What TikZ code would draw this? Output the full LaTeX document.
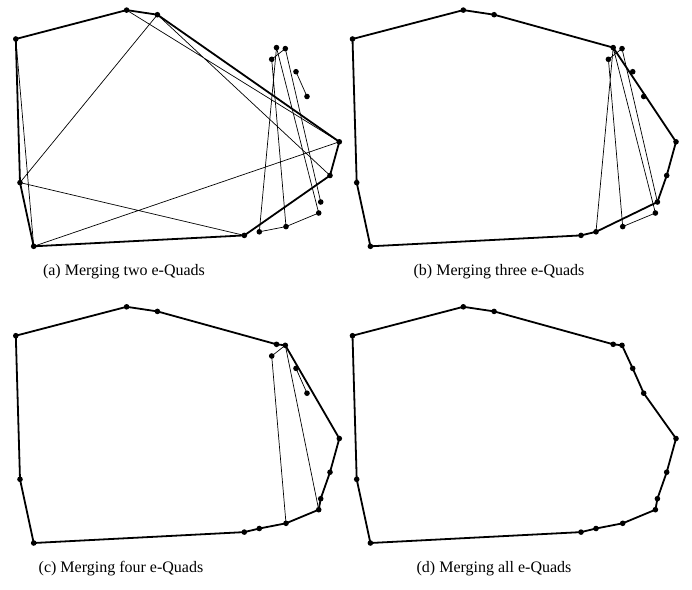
\documentclass[tikz,border=0pt]{standalone}
\usepackage{fontspec}
\setmainfont{Liberation Serif}
\usepackage{tikz}

% stili
\tikzset{
  hull/.style={line width=1.8pt, line join=round},
  quad/.style={line width=0.7pt},
  pt/.style={fill=black},
  caption/.style={font=\fontsize{16}{19}\selectfont, inner sep=0pt}
}

% punti (coordinate locali del pannello)
\newcommand{\puntiset}{%
  \coordinate (A) at (15.8,39);
  \coordinate (B) at (126.6,10.1);
  \coordinate (C) at (157.4,14.7);
  \coordinate (D) at (276.5,47.6);
  \coordinate (E) at (285.3,48.6);
  \coordinate (F) at (271.7,59.3);
  \coordinate (G) at (296,71.7);
  \coordinate (H) at (307,96.5);
  \coordinate (I) at (339.3,141.8);
  \coordinate (J) at (330,175.5);
  \coordinate (K) at (320.7,202);
  \coordinate (L) at (318.7,213);
  \coordinate (M) at (286,226.6);
  \coordinate (N) at (259.3,231.8);
  \coordinate (O) at (244.3,235.4);
  \coordinate (P) at (33.7,246.3);
  \coordinate (Q) at (20,182.6);
}

\begin{document}
\begin{tikzpicture}[x=1pt,y=-1pt]

\useasboundingbox (0,0) rectangle (692,589);

% (a) due e-Quads
\begin{scope}
\puntiset
\draw[quad] (A) -- (P) (B) -- (I) (C) -- (J) (C) -- (Q) (Q) -- (O) (P) -- (I);
\draw[quad] (D) -- (N) (F) -- (M) (D) -- (L) (E) -- (K) (F) -- (E)
            (G) -- (H) (N) -- (M) (M) -- (L);
\draw[hull] (A) -- (B) -- (C) -- (I) -- (J) -- (O) -- (P) -- (Q) -- cycle;
\foreach \p in {A,B,C,D,E,F,G,H,I,J,K,L,M,N,O,P,Q}
  \fill[pt] (\p) circle (2.8pt);
\node[caption] (capa) at (124,272) {(a) Merging two e-Quads};
\end{scope}

% (b) tre e-Quads
\begin{scope}[shift={(336.7,0)}]
\puntiset
\draw[quad] (D) -- (N) (F) -- (M) (D) -- (L) (E) -- (K) (F) -- (E) (M) -- (L);
\draw[hull] (A) -- (B) -- (C) -- (D) -- (I) -- (J) -- (K) -- (N) -- (O) -- (P) -- (Q) -- cycle;
\foreach \p in {A,B,C,D,E,F,G,H,I,J,K,L,M,N,O,P,Q}
  \fill[pt] (\p) circle (2.8pt);
\node[caption] (capb) at (162.3,272) {(b) Merging three e-Quads};
\end{scope}

% (c) quattro e-Quads
\begin{scope}[shift={(0,296.7)}]
\puntiset
\draw[quad] (F) -- (E) (F) -- (M) (E) -- (L) (G) -- (H);
\draw[hull] (A) -- (B) -- (C) -- (D) -- (E) -- (I) -- (J) -- (K) -- (L) -- (M) -- (N) -- (O) -- (P) -- (Q) -- cycle;
\foreach \p in {A,B,C,D,E,F,G,H,I,J,K,L,M,N,O,P,Q}
  \fill[pt] (\p) circle (2.8pt);
\node[caption] (capc) at (121,272.3) {(c) Merging four e-Quads};
\end{scope}

% (d) tutti
\begin{scope}[shift={(336.7,296.7)}]
\puntiset
\draw[hull] (A) -- (B) -- (C) -- (D) -- (E) -- (G) -- (H) -- (I) -- (J) -- (K) -- (L) -- (M) -- (N) -- (O) -- (P) -- (Q) -- cycle;
\foreach \p in {A,B,C,D,E,G,H,I,J,K,L,M,N,O,P,Q}
  \fill[pt] (\p) circle (2.8pt);
\node[caption] (capd) at (157.3,272.3) {(d) Merging all e-Quads};
\end{scope}

\end{tikzpicture}
\end{document}
